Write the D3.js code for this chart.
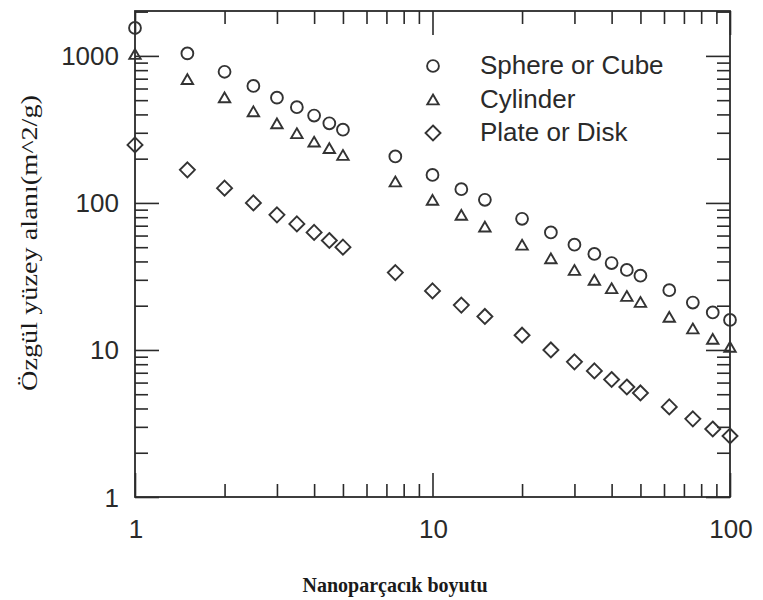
<!DOCTYPE html>
<html>
<head>
<meta charset="utf-8">
<script src="https://cdn.jsdelivr.net/npm/d3@7"></script>
<style>
  html, body { margin: 0; padding: 0; background: #fff; }
  svg { display: block; }
</style>
</head>
<body>
<svg id="chart" width="763" height="600"></svg>
<script>
// Particle size (nm) and specific surface area for three particle shapes
const sizes    = [1, 1.5, 2, 2.5, 3, 3.5, 4, 4.5, 5, 7.5, 10, 12.5, 15, 20, 25, 30, 35, 40, 45, 50, 62.5, 75, 87.5, 100];
const sphere   = [1550, 1040, 780, 625, 520, 448, 393, 348, 315, 207, 155, 124, 105, 78, 63, 52, 45, 39, 35, 32, 25.5, 21, 18, 16];
const cylinder = [1030, 695, 522, 420, 348, 298, 261, 236, 212, 140, 105, 83, 69, 52, 42, 35, 30, 26.3, 23.3, 21.2, 16.8, 14, 11.9, 10.5];
const plate    = [248, 168, 126, 100, 83, 72, 63, 55.5, 50, 33.6, 25.2, 20.2, 16.9, 12.6, 10, 8.3, 7.2, 6.3, 5.6, 5.1, 4.1, 3.4, 2.9, 2.6];

const seriesNames = ["Sphere or Cube", "Cylinder", "Plate or Disk"];
const xTickLabels = [1, 10, 100];
const yTickLabels = [1, 10, 100, 1000];
const xDomain = [1, 100];
const yDomain = [1, 2020];

const xTitle = "Nanoparçacık boyutu";
const yTitle = "Özgül yüzey alanı(m^2/g)";

const ink = "#2a2a2a";
const svg = d3.select("#chart");

const plotLeft = 135, plotRight = 730, plotTop = 11, plotBottom = 497;
const x = d3.scaleLog().domain(xDomain).range([plotLeft, plotRight]);
const y = d3.scaleLog().domain(yDomain).range([plotBottom, plotTop]);

// Marker shapes, centred on their bounding boxes
const triangle = {
  draw(ctx, size) {
    const w = Math.sqrt(size), h = w * 0.86;
    ctx.moveTo(0, -h / 2);
    ctx.lineTo(w / 2, h / 2);
    ctx.lineTo(-w / 2, h / 2);
    ctx.closePath();
  }
};
const diamond = {
  draw(ctx, size) {
    const r = Math.sqrt(size) / 2;
    ctx.moveTo(0, -r);
    ctx.lineTo(r, 0);
    ctx.lineTo(0, r);
    ctx.lineTo(-r, 0);
    ctx.closePath();
  }
};
const series = [
  { name: seriesNames[0], values: sphere,   symbol: d3.symbol(d3.symbolCircle, 110) },
  { name: seriesNames[1], values: cylinder, symbol: d3.symbol(triangle, 130) },
  { name: seriesNames[2], values: plate,    symbol: d3.symbol(diamond, 225) }
];

// Frame
svg.append("rect")
  .attr("x", plotLeft).attr("y", plotTop)
  .attr("width", plotRight - plotLeft).attr("height", plotBottom - plotTop)
  .attr("fill", "none").attr("stroke", ink).attr("stroke-width", 1.8);

// Inward ticks on all four sides
const majorLen = 24, minorLen = 13;
const xMinor = x.ticks().filter(v => !xTickLabels.includes(v));
const yMinor = y.ticks().filter(v => !yTickLabels.includes(v) && v <= yDomain[1]);

function tickAxis(axis, tr, majors, minors) {
  [[majors, majorLen], [minors, minorLen]].forEach(([vals, len]) => {
    const g = svg.append("g").attr("transform", tr)
      .call(axis.tickValues(vals).tickSize(-len).tickFormat(""));
    g.select(".domain").remove();
    g.selectAll(".tick line").attr("stroke", ink).attr("stroke-width", 1.6);
  });
}
tickAxis(d3.axisBottom(x), `translate(0,${plotBottom})`, xTickLabels, xMinor);
tickAxis(d3.axisTop(x),    `translate(0,${plotTop})`,    xTickLabels, xMinor);
tickAxis(d3.axisLeft(y),   `translate(${plotLeft},0)`,   yTickLabels, yMinor);
tickAxis(d3.axisRight(y),  `translate(${plotRight},0)`,  yTickLabels, yMinor);

// Tick labels
const labelFont = "'Liberation Sans', Arial, Helvetica, sans-serif";
svg.append("g").selectAll("text").data(xTickLabels).join("text")
  .attr("x", d => x(d) + 1).attr("y", plotBottom + 41)
  .attr("text-anchor", "middle")
  .attr("font-family", labelFont).attr("font-size", 26).attr("fill", ink)
  .text(d => d);
svg.append("g").selectAll("text").data(yTickLabels).join("text")
  .attr("x", plotLeft - 16).attr("y", d => y(d) + 9.5)
  .attr("text-anchor", "end")
  .attr("font-family", labelFont).attr("font-size", 26).attr("fill", ink)
  .text(d => d);

// Data markers
series.forEach(s => {
  svg.append("g").selectAll("path").data(sizes.map((d, i) => [d, s.values[i]])).join("path")
    .attr("transform", d => `translate(${x(d[0])},${y(d[1])})`)
    .attr("d", s.symbol)
    .attr("fill", "none").attr("stroke", "#333").attr("stroke-width", 1.9);
});

// Legend
const legend = svg.append("g").attr("transform", "translate(433,66)");
series.forEach((s, i) => {
  const row = legend.append("g").attr("transform", `translate(0,${i * 33.5})`);
  row.append("path").attr("d", s.symbol)
    .attr("fill", "none").attr("stroke", "#333").attr("stroke-width", 1.9);
  row.append("text").attr("x", 47).attr("y", 8)
    .attr("font-family", labelFont).attr("font-size", 26).attr("fill", ink)
    .text(s.name);
});

// Axis titles
const titleFont = "'Liberation Serif', 'Times New Roman', serif";
svg.append("text")
  .attr("x", 395).attr("y", 592)
  .attr("text-anchor", "middle")
  .attr("font-family", titleFont).attr("font-size", 20).attr("font-weight", "bold")
  .attr("fill", "#1a1a1a")
  .attr("textLength", 185).attr("lengthAdjust", "spacingAndGlyphs")
  .text(xTitle);
svg.append("text")
  .attr("transform", "translate(37,243) rotate(-90)")
  .attr("text-anchor", "middle")
  .attr("font-family", titleFont).attr("font-size", 24)
  .attr("fill", "#1a1a1a")
  .attr("textLength", 296).attr("lengthAdjust", "spacingAndGlyphs")
  .text(yTitle);
</script>
</body>
</html>
